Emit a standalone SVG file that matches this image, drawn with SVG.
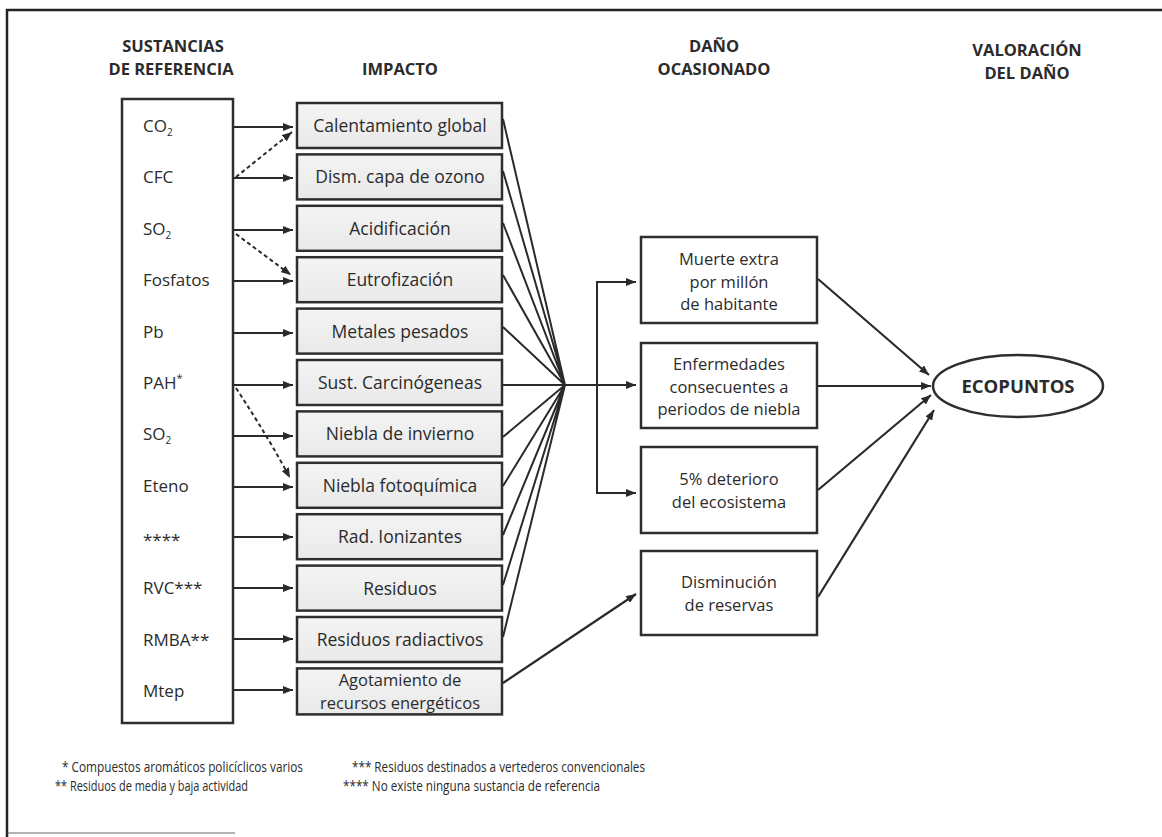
<svg xmlns="http://www.w3.org/2000/svg" width="1162" height="837" viewBox="0 0 1162 837">
<defs>
<marker id="ah" viewBox="0 0 10 8" refX="10" refY="4" markerWidth="10" markerHeight="8" markerUnits="userSpaceOnUse" orient="auto">
<path d="M0,0 L10,4 L0,8 Z" fill="#2a2a2a"/>
</marker>
<linearGradient id="gb" x1="0" y1="0" x2="0" y2="1">
<stop offset="0" stop-color="#f4f4f4"/><stop offset="1" stop-color="#e9e9e9"/>
</linearGradient>
<style>
text{font-family:"Open Sans","Liberation Sans",sans-serif;fill:#2b2b2b;}
.h{font-weight:bold;font-size:16.5px;text-anchor:middle;}
.s{font-size:17px;}
.t{font-size:17.5px;text-anchor:middle;}
.t2{font-size:16.5px;text-anchor:middle;}
.d{font-size:16.5px;text-anchor:middle;}
.f{font-size:14.5px;}
.box{fill:url(#gb);stroke:#2e2e2e;stroke-width:2.5;}
.dbox{fill:#fff;stroke:#2e2e2e;stroke-width:2.5;}
.ln{fill:none;stroke:#2a2a2a;stroke-width:2;}
.ar{fill:none;stroke:#2a2a2a;stroke-width:2.2;marker-end:url(#ah);}
.da{fill:none;stroke:#2a2a2a;stroke-width:2;stroke-dasharray:4 3;marker-end:url(#ah);}
</style>
</defs>
<rect width="1162" height="837" fill="#fff"/>
<path d="M7,837 V10 H1162" fill="none" stroke="#222" stroke-width="2.5"/>
<path d="M7,833 H235" fill="none" stroke="#555" stroke-width="1.5" opacity="0.6"/>

<g id="headers">
<text class="h" x="173" y="52">SUSTANCIAS</text>
<text class="h" x="171" y="75">DE REFERENCIA</text>
<text class="h" x="400" y="75">IMPACTO</text>
<text class="h" x="714" y="52">DAÑO</text>
<text class="h" x="714" y="75">OCASIONADO</text>
<text class="h" x="1027" y="56">VALORACIÓN</text>
<text class="h" x="1027" y="79">DEL DAÑO</text>
</g>

<g id="sustancias">
<rect x="122" y="99" width="111" height="624" fill="#fff" stroke="#2e2e2e" stroke-width="2.5"/>
<text class="s" x="143" y="132">CO<tspan font-size="10" dy="4">2</tspan></text>
<text class="s" x="143" y="183">CFC</text>
<text class="s" x="143" y="235">SO<tspan font-size="10" dy="4">2</tspan></text>
<text class="s" x="143" y="286">Fosfatos</text>
<text class="s" x="143" y="338">Pb</text>
<text class="s" x="143" y="389">PAH<tspan font-size="11" dy="-7">*</tspan></text>
<text class="s" x="143" y="440">SO<tspan font-size="10" dy="4">2</tspan></text>
<text class="s" x="143" y="492">Eteno</text>
<text class="s" x="143" y="546" font-size="13">****</text>
<text class="s" x="143" y="594">RVC***</text>
<text class="s" x="143" y="646">RMBA**</text>
<text class="s" x="143" y="697">Mtep</text>
</g>

<g id="imp-0"><rect class="box" x="297" y="103" width="205" height="45"/><text class="t" x="400" y="132">Calentamiento global</text></g>
<g id="imp-1"><rect class="box" x="297" y="154.4" width="205" height="45"/><text class="t" x="400" y="183">Dism. capa de ozono</text></g>
<g id="imp-2"><rect class="box" x="297" y="205.8" width="205" height="45"/><text class="t" x="400" y="235">Acidificación</text></g>
<g id="imp-3"><rect class="box" x="297" y="257.2" width="205" height="45"/><text class="t" x="400" y="286">Eutrofización</text></g>
<g id="imp-4"><rect class="box" x="297" y="308.6" width="205" height="45"/><text class="t" x="400" y="338">Metales pesados</text></g>
<g id="imp-5"><rect class="box" x="297" y="360" width="205" height="45"/><text class="t" x="400" y="389">Sust. Carcinógeneas</text></g>
<g id="imp-6"><rect class="box" x="297" y="411.4" width="205" height="45"/><text class="t" x="400" y="440">Niebla de invierno</text></g>
<g id="imp-7"><rect class="box" x="297" y="462.8" width="205" height="45"/><text class="t" x="400" y="492">Niebla fotoquímica</text></g>
<g id="imp-8"><rect class="box" x="297" y="514.2" width="205" height="45"/><text class="t" x="400" y="543">Rad. Ionizantes</text></g>
<g id="imp-9"><rect class="box" x="297" y="565.6" width="205" height="45"/><text class="t" x="400" y="595">Residuos</text></g>
<g id="imp-10"><rect class="box" x="297" y="617" width="205" height="45"/><text class="t" x="400" y="646">Residuos radiactivos</text></g>
<g id="imp-11"><rect class="box" x="297" y="668.4" width="205" height="46"/><text class="t2" x="400" y="686">Agotamiento de</text><text class="t2" x="400" y="708.5">recursos energéticos</text></g>

<g id="dano-0"><rect class="dbox" x="641" y="237" width="176" height="86"/><text class="d" x="729" y="265">Muerte extra</text><text class="d" x="729" y="287.5">por millón</text><text class="d" x="729" y="310">de habitante</text></g>
<g id="dano-1"><rect class="dbox" x="641" y="343" width="176" height="85"/><text class="d" x="729" y="370">Enfermedades</text><text class="d" x="729" y="392.5">consecuentes  a</text><text class="d" x="729" y="415">periodos de niebla</text></g>
<g id="dano-2"><rect class="dbox" x="641" y="447" width="176" height="86"/><text class="d" x="729" y="485">5% deterioro</text><text class="d" x="729" y="507.5">del ecosistema</text></g>
<g id="dano-3"><rect class="dbox" x="641" y="551" width="176" height="84"/><text class="d" x="729" y="588">Disminución</text><text class="d" x="729" y="610.5">de reservas</text></g>

<g id="ecopuntos"><ellipse cx="1018" cy="386" rx="85" ry="31" fill="#fff" stroke="#2e2e2e" stroke-width="2.5"/><text x="1018" y="393" font-size="18.5" font-weight="bold" text-anchor="middle">ECOPUNTOS</text></g>

<g id="connectors">
<path class="ar" d="M234,127 H293"/>
<path class="ar" d="M234,178 H293"/>
<path class="ar" d="M234,230 H293"/>
<path class="ar" d="M234,281 H293"/>
<path class="ar" d="M234,333 H293"/>
<path class="ar" d="M234,385 H293"/>
<path class="ar" d="M234,436 H293"/>
<path class="ar" d="M234,487 H293"/>
<path class="ar" d="M234,537 H293"/>
<path class="ar" d="M234,588 H293"/>
<path class="ar" d="M234,639 H293"/>
<path class="ar" d="M234,690 H293"/>
<path class="da" d="M236,177 L292,132"/>
<path class="da" d="M236,234 L291,275"/>
<path class="da" d="M236,388 Q270,440 290,478"/>

<path class="ln" d="M503,119 L565,385 M503,171 L565,385 M503,223 L565,385 M503,275 L565,385 M503,327 L565,385 M503,385 L565,385 M503,437 L565,385 M503,486 L565,385 M503,535 L565,385 M503,585 L565,385 M503,637 L565,385"/>
<path class="ar" d="M565,385 H636"/>
<path class="ln" d="M597,493 V282"/>
<path class="ar" d="M596,282 H636"/>
<path class="ar" d="M596,493 H636"/>
<path class="ar" d="M503,683 L636,594"/>

<path class="ar" d="M818,279 L929,375"/>
<path class="ar" d="M818,386 H931"/>
<path class="ar" d="M818,490 L931,395"/>
<path class="ar" d="M818,597 L934,410"/>
</g>

<g id="footnotes">
<text class="f" x="62" y="772" textLength="241" lengthAdjust="spacingAndGlyphs">* Compuestos aromáticos policíclicos varios</text>
<text class="f" x="55" y="791" textLength="193" lengthAdjust="spacingAndGlyphs">** Residuos de media y baja actividad</text>
<text class="f" x="352" y="772" textLength="293" lengthAdjust="spacingAndGlyphs">*** Residuos destinados a vertederos convencionales</text>
<text class="f" x="343" y="791" textLength="257" lengthAdjust="spacingAndGlyphs">**** No existe ninguna sustancia de referencia</text>
</g>
</svg>
